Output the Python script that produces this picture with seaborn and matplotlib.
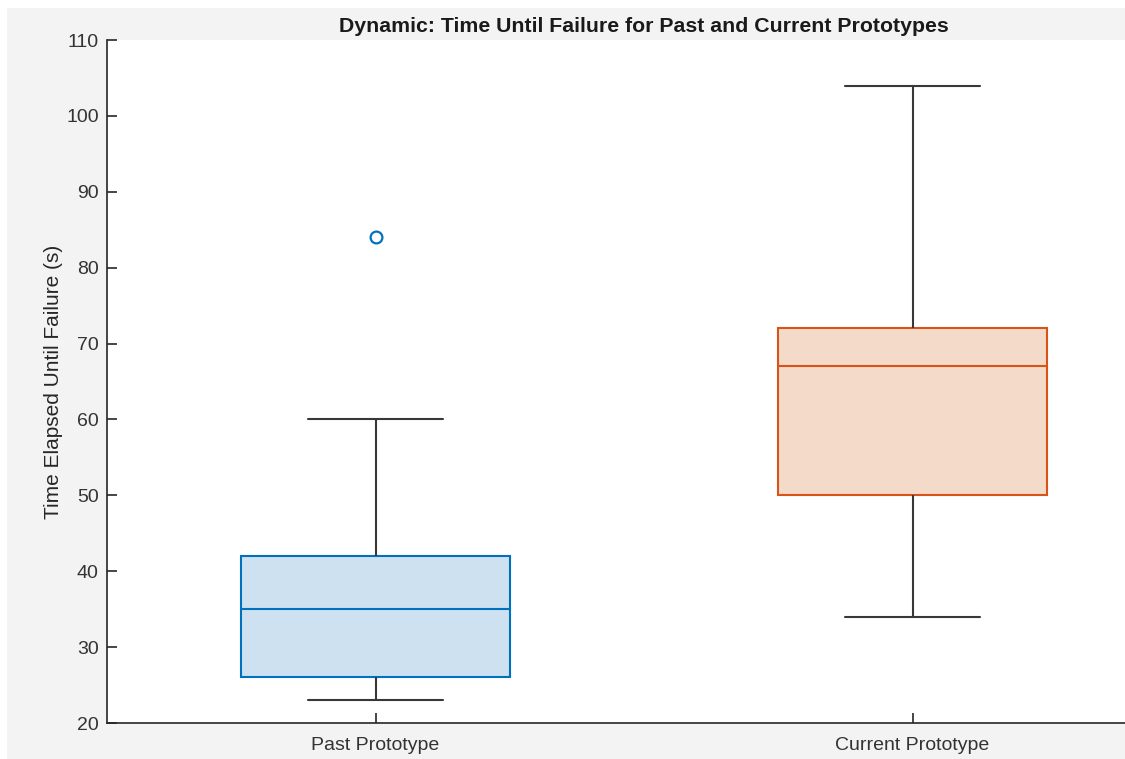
import numpy as np
import pandas as pd
import matplotlib
matplotlib.use("Agg")
import matplotlib.pyplot as plt
from matplotlib.patches import Rectangle
import seaborn as sns

# Failure times (s) for each prototype
categories = ["Past Prototype", "Current Prototype"]
past_times = [23, 24, 26, 30, 35, 38, 42, 60, 84]
current_times = [34, 45, 50, 60, 67, 70, 72, 90, 104]
edge_colors = ["#0072BD", "#D95319"]
fill_colors = ["#CEE1F1", "#F4DAC8"]
yticks = list(range(20, 111, 10))

df = pd.DataFrame({
    "Prototype": [categories[0]] * len(past_times) + [categories[1]] * len(current_times),
    "Time": past_times + current_times,
})

sns.set_style("ticks")
plt.rcParams["font.family"] = ["Liberation Sans", "DejaVu Sans"]

W, H = 1125, 759
fig = plt.figure(figsize=(W / 100, H / 100), dpi=100, facecolor="white")
fig.patches.append(Rectangle((7 / W, 0), 1, (H - 8) / H, transform=fig.transFigure,
                             facecolor="#f3f3f3", edgecolor="none", zorder=-10))

ax = fig.add_axes([107 / W, 36 / H, (1181 - 107) / W, (723 - 40) / H])
ax.set_facecolor("white")

sns.boxplot(data=df, x="Prototype", y="Time", order=categories, hue="Prototype",
            hue_order=categories, palette=edge_colors, width=0.5, whis=1.5,
            legend=False, ax=ax, linewidth=1.3,
            flierprops=dict(marker="o", markersize=8.5, markeredgewidth=1.6,
                            markerfacecolor="none"))

dark = "#383838"
for cont, col, fc in zip(ax.containers, edge_colors, fill_colors):
    for b in cont.boxes:
        b.set_facecolor(fc)
        b.set_edgecolor(col)
        b.set_linewidth(1.5)
    for m in cont.medians:
        m.set_color(col)
        m.set_linewidth(1.5)
    for w in cont.whiskers:
        w.set_color(dark)
        w.set_linewidth(1.5)
    for c in cont.caps:
        c.set_color(dark)
        c.set_linewidth(1.5)
    for f in cont.fliers:
        f.set_markeredgecolor(col)
        f.set_markerfacecolor("none")

ax.set_xlim(-0.5, 1.5)
ax.set_ylim(20, 110)
ax.set_yticks(yticks)
ax.set_xlabel("")
ax.set_ylabel("Time Elapsed Until Failure (s)", fontsize=15, color="#262626", labelpad=2)
ax.set_title("Dynamic: Time Until Failure for Past and Current Prototypes",
             fontsize=15.3, fontweight="bold", color="#1a1a1a", pad=6)

for side in ["top", "right"]:
    ax.spines[side].set_visible(False)
for side in ["left", "bottom"]:
    ax.spines[side].set_color("#262626")
    ax.spines[side].set_linewidth(1.2)
ax.tick_params(axis="both", direction="in", length=7, width=1.2, color="#262626",
               labelsize=14, labelcolor="#333333")
ax.tick_params(axis="y", pad=6)
ax.tick_params(axis="x", pad=10)

fig.savefig("out.png", dpi=100, facecolor=fig.get_facecolor())
